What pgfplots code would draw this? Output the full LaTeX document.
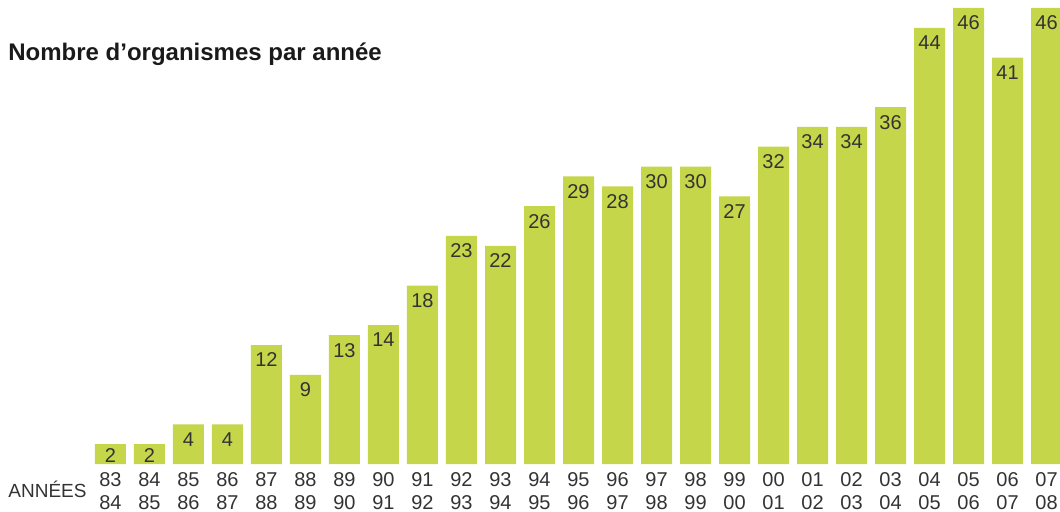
\documentclass[border=0pt]{standalone}
\usepackage{pgfplots}
\pgfplotsset{compat=1.18}
\usepackage{fontspec}
\setmainfont{Liberation Sans}
\definecolor{barg}{HTML}{C5D64A}
\definecolor{txt}{HTML}{333333}
\definecolor{ttl}{HTML}{1A1A1A}
\begin{document}
\begin{tikzpicture}[x=1pt,y=1pt]
\path[use as bounding box] (0,0) rectangle (530,255.5);
\begin{axis}[at={(0pt,23.5pt)}, anchor=south west, scale only axis,
  width=530pt, height=232pt,
  xmin=-2.833, xmax=24.346, ymin=0, ymax=46.8,
  axis line style={draw=none}, ytick=\empty, major tick length=0pt,
  xtick={0,...,24},
  xticklabels={{83\\84},{84\\85},{85\\86},{86\\87},{87\\88},{88\\89},{89\\90},{90\\91},{91\\92},{92\\93},{93\\94},{94\\95},{95\\96},{96\\97},{97\\98},{98\\99},{99\\00},{00\\01},{01\\02},{02\\03},{03\\04},{04\\05},{05\\06},{06\\07},{07\\08}},
  xticklabel style={align=center, font=\fontsize{10}{11.2}\selectfont, text=txt, inner sep=0pt, anchor=north, yshift=-4.3pt},
  /pgf/number format/assume math mode=true,
  nodes near coords,
  every node near coord/.append style={anchor=north, font=\fontsize{10}{12}\selectfont, text=txt, inner sep=0pt, yshift=-3.8pt},
]
\addplot[ybar, bar width=15.5pt, bar shift=0pt, fill=barg, draw=none] coordinates {
(2,4) (3,4) (4,12) (5,9) (6,13) (7,14) (8,18) (9,23) (10,22) (11,26) (12,29) (13,28) (14,30) (15,30) (16,27) (17,32) (18,34) (19,34) (20,36) (21,44) (22,46) (23,41) (24,46)};
\addplot[ybar, bar width=15.5pt, bar shift=0pt, fill=barg, draw=none,
  every node near coord/.append style={yshift=2pt}] coordinates {(0,2) (1,2)};
\end{axis}
\node[anchor=base west, inner sep=0pt, font=\bfseries\fontsize{12}{14}\selectfont, text=ttl] at (4,225.5) {Nombre d’organismes par année};
\node[anchor=base west, inner sep=0pt, font=\fontsize{9.5}{11}\selectfont, text=txt] at (4,7) {ANNÉES};
\end{tikzpicture}
\end{document}
